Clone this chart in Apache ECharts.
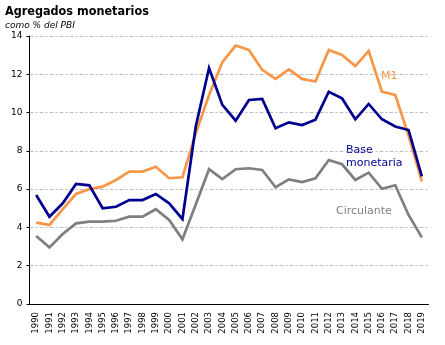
<!DOCTYPE html>
<html>
<head>
<meta charset="utf-8">
<script src="https://cdn.jsdelivr.net/npm/echarts@6/dist/echarts.min.js"></script>
<style>
  html, body { margin: 0; padding: 0; background: #fff; }
  #chart { width: 445px; height: 345px; }
</style>
</head>
<body>
<div id="chart"></div>
<script>
// Años
const years = ['1990','1991','1992','1993','1994','1995','1996','1997','1998','1999',
  '2000','2001','2002','2003','2004','2005','2006','2007','2008','2009',
  '2010','2011','2012','2013','2014','2015','2016','2017','2018','2019'];

// M1, % del PBI
const m1 = [4.25, 4.13, 4.95, 5.75, 6.0, 6.13, 6.48, 6.92, 6.92, 7.17,
  6.57, 6.62, 8.92, 10.92, 12.63, 13.5, 13.27, 12.23, 11.76, 12.26,
  11.76, 11.62, 13.27, 13.01, 12.43, 13.22, 11.09, 10.92, 8.8, 6.4];

// Base monetaria, % del PBI
const baseMonetaria = [5.69, 4.56, 5.26, 6.27, 6.2, 5.0, 5.08, 5.43, 5.43, 5.75,
  5.26, 4.44, 9.27, 12.33, 10.4, 9.58, 10.66, 10.71, 9.18, 9.49,
  9.35, 9.63, 11.09, 10.74, 9.65, 10.45, 9.65, 9.27, 9.09, 6.67];

// Circulante, % del PBI
const circulante = [3.55, 2.96, 3.66, 4.21, 4.3, 4.3, 4.35, 4.56, 4.56, 4.95,
  4.39, 3.38, 5.2, 7.04, 6.53, 7.04, 7.09, 7.0, 6.1, 6.51,
  6.37, 6.57, 7.52, 7.3, 6.48, 6.86, 6.02, 6.2, 4.65, 3.48];

const yTicks = { min: 0, max: 14, interval: 2 };

const FONT = 'DejaVu Sans';
const chart = echarts.init(document.getElementById('chart'), null, { renderer: 'canvas' });

const lineSeries = (name, data, color) => ({
  name, type: 'line', data,
  symbol: 'none',
  lineStyle: { color, width: 2.7, join: 'miter' },
  itemStyle: { color },
  animation: false
});

chart.setOption({
  backgroundColor: '#ffffff',
  animation: false,
  textStyle: { fontFamily: FONT },
  grid: { left: 29.5, right: 16.5, top: 36, bottom: 41, containLabel: false },
  xAxis: {
    type: 'category',
    data: years,
    boundaryGap: true,
    axisLine: { lineStyle: { color: '#000', width: 1 } },
    axisTick: { show: false },
    axisLabel: { rotate: 90, fontSize: 8.5, color: '#000', margin: 8, interval: 0, fontFamily: FONT }
  },
  yAxis: {
    type: 'value',
    min: yTicks.min, max: yTicks.max, interval: yTicks.interval,
    axisLine: { show: true, lineStyle: { color: '#000', width: 1 } },
    axisTick: { show: true, length: 3, lineStyle: { color: '#000' } },
    axisLabel: { fontSize: 9, color: '#000', margin: 7, fontFamily: FONT },
    splitLine: { lineStyle: { color: '#bdbdbd', width: 1, type: [4, 2, 2, 2] } }
  },
  series: [
    lineSeries('Circulante', circulante, '#7f7f7f'),
    lineSeries('M1', m1, '#f79646'),
    lineSeries('Base monetaria', baseMonetaria, '#000090')
  ],
  graphic: [
    { type: 'text', left: 5, top: 5,
      style: { text: 'Agregados monetarios', font: 'bold 12.5px "DejaVu Sans Condensed", "DejaVu Sans"', fill: '#000' } },
    { type: 'text', left: 5, top: 21,
      style: { text: 'como % del PBI', font: 'italic 9px "DejaVu Sans"', fill: '#000' } },
    { type: 'text', left: 381, top: 71,
      style: { text: 'M1', font: '11px "DejaVu Sans"', fill: '#f79646' } },
    { type: 'text', left: 346, top: 144,
      style: { text: 'Base\nmonetaria', font: '11px "DejaVu Sans"', fill: '#000090', lineHeight: 13 } },
    { type: 'text', left: 336, top: 206,
      style: { text: 'Circulante', font: '11px "DejaVu Sans"', fill: '#7f7f7f' } }
  ]
});
</script>
</body>
</html>
